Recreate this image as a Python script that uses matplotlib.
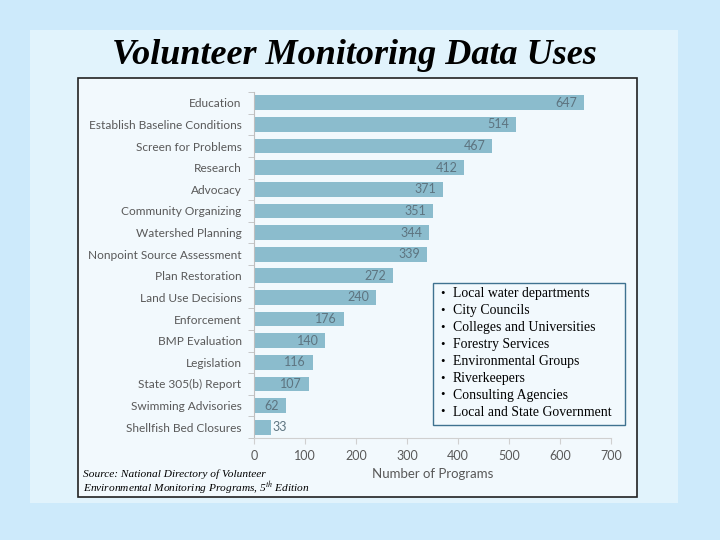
import matplotlib.pyplot as plt
from matplotlib.patches import Rectangle

# data
categories = ["Education", "Establish Baseline Conditions", "Screen for Problems", "Research",
              "Advocacy", "Community Organizing", "Watershed Planning", "Nonpoint Source Assessment",
              "Plan Restoration", "Land Use Decisions", "Enforcement", "BMP Evaluation",
              "Legislation", "State 305(b) Report", "Swimming Advisories", "Shellfish Bed Closures"]
programs = [647, 514, 467, 412, 371, 351, 344, 339, 272, 240, 176, 140, 116, 107, 62, 33]
x_ticks = [0, 100, 200, 300, 400, 500, 600, 700]
users = ["Local water departments", "City Councils", "Colleges and Universities",
         "Forestry Services", "Environmental Groups", "Riverkeepers",
         "Consulting Agencies", "Local and State Government"]

W, H = 720, 540
fig = plt.figure(figsize=(7.2, 5.4), dpi=100)
fig.patch.set_facecolor("#cdeafb")

# slide panel and chart frame
fig.patches.append(Rectangle((30 / W, 1 - 503 / H), 648 / W, 473 / H, transform=fig.transFigure,
                             facecolor="#e1f3fc", edgecolor="none", zorder=0))
fig.patches.append(Rectangle((78 / W, 1 - 497 / H), 559 / W, 419 / H, transform=fig.transFigure,
                             facecolor="#f2f9fd", edgecolor="#222222", linewidth=1.2, zorder=0))

fig.text(354 / W, 1 - 56 / H, "Volunteer Monitoring Data Uses", ha="center", va="center",
         family="Liberation Serif", style="italic", weight="bold", fontsize=26, color="black")

ax = fig.add_axes([254 / W, 1 - 438 / H, 357 / W, 346 / H])
ax.set_zorder(2)
ax.set_facecolor("none")
ypos = list(range(len(categories)))
bars = ax.barh(ypos, programs, height=0.68, color="#8bbccd")
ax.set_ylim(len(categories) - 0.5, -0.5)
ax.set_xlim(0, 700)

lab_font = dict(family="Lato", fontsize=8.6, color="#595959")
for b, v in zip(bars, programs):
    yc = b.get_y() + b.get_height() / 2
    if v > 50:
        ax.annotate(str(v), (v, yc), xytext=(-5, 0), textcoords="offset points",
                    ha="right", va="center", family="Lato", fontsize=9, color="#5d7480")
    else:
        ax.annotate(str(v), (v, yc), xytext=(1.5, 0), textcoords="offset points",
                    ha="left", va="center", family="Lato", fontsize=9, color="#5d7480")

ax.set_yticks(ypos)
ax.set_yticklabels(categories, **lab_font)
ax.tick_params(axis="y", length=0, pad=9)
ax.set_yticks([i - 0.5 for i in range(len(categories) + 1)], minor=True)
ax.tick_params(axis="y", which="minor", length=4, color="#bfbfbf")
ax.set_xticks(x_ticks)
ax.set_xticklabels([str(t) for t in x_ticks], **{**lab_font, "fontsize": 9})
ax.tick_params(axis="x", length=4, color="#d0d0d0", pad=5)
ax.set_xlabel("Number of Programs", labelpad=4, **{**lab_font, "fontsize": 9.5})
for s in ["top", "right"]:
    ax.spines[s].set_visible(False)
ax.spines["left"].set_color("#bfbfbf")
ax.spines["bottom"].set_color("#d0d0d0")

# bullet list box
fig.patches.append(Rectangle((433 / W, 1 - 425 / H), 192 / W, 142 / H, transform=fig.transFigure,
                             facecolor="#f2f9fd", edgecolor="#3f7290", linewidth=1.0, zorder=3))
for i, u in enumerate(users):
    y = 1 - (294 + i * 16.9) / H
    fig.text(440 / W, y, "\u2022", ha="left", va="center", family="Liberation Serif",
             fontsize=9, zorder=4)
    fig.text(453 / W, y, u, ha="left", va="center", family="Liberation Serif",
             fontsize=9.9, zorder=4)

plt.rcParams["mathtext.fontset"] = "stix"
src_font = dict(family="Liberation Serif", style="italic", fontsize=8.2, color="black")
fig.text(83 / W, 1 - 474 / H, "Source: National Directory of Volunteer", ha="left", va="center", **src_font)
fig.text(83 / W, 1 - 488 / H, "Environmental Monitoring Programs, 5$^{th}$ Edition",
         ha="left", va="center", **src_font)

fig.savefig("out.png", dpi=100, facecolor=fig.get_facecolor())
